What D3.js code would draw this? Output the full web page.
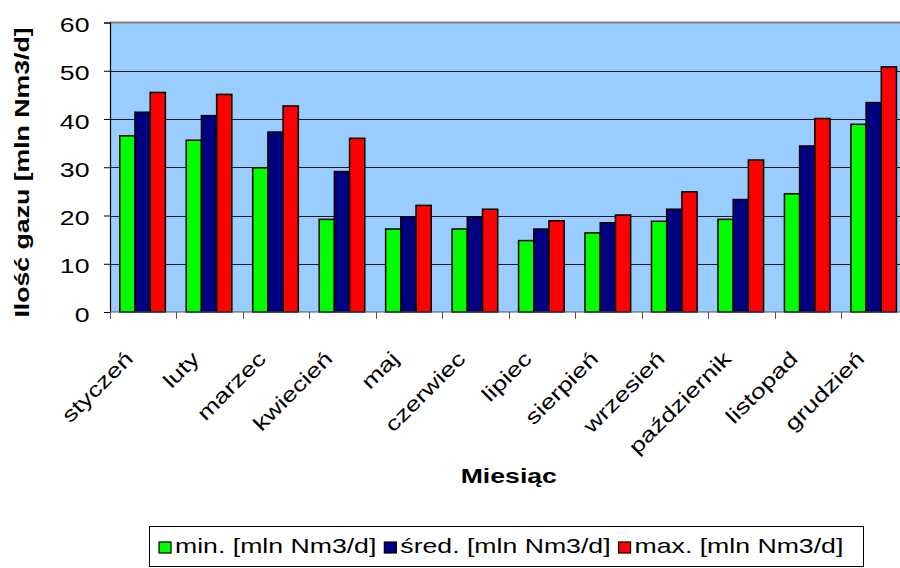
<!DOCTYPE html>
<html>
<head>
<meta charset="utf-8">
<script src="https://cdn.jsdelivr.net/npm/d3@7"></script>
<style>
  html, body { margin: 0; padding: 0; background: #fff; }
  svg { display: block; }
  text { font-family: "Liberation Sans", Arial, sans-serif; fill: #000; }
</style>
</head>
<body>
<svg id="chart" width="900" height="568"></svg>
<script>
// Monthly gas quantities [mln Nm3/d]
const months = ["styczeń", "luty", "marzec", "kwiecień", "maj", "czerwiec",
                "lipiec", "sierpień", "wrzesień", "październik", "listopad", "grudzień"];
const minValues  = [36.5, 35.6, 29.9, 19.2, 17.2, 17.2, 14.8, 16.4, 18.8, 19.2, 24.5, 38.9];
const avgValues  = [41.4, 40.7, 37.3, 29.1, 19.7, 19.7, 17.2, 18.5, 21.3, 23.3, 34.4, 43.4];
const maxValues  = [45.5, 45.1, 42.7, 36.0, 22.1, 21.3, 18.9, 20.1, 24.9, 31.5, 40.1, 50.8];
const seriesNames = ["min. [mln Nm3/d]", "śred. [mln Nm3/d]", "max. [mln Nm3/d]"];
const seriesColors = ["#00FF00", "#000080", "#FF0000"];
const yTicks = [0, 10, 20, 30, 40, 50, 60];

const series = [minValues, avgValues, maxValues];
const svg = d3.select("#chart");

// Text in this chart is drawn wide (stretched along its baseline)
const SX = 1.3;
const FS = 20.5;

const plot = { left: 110, top: 22.5, width: 797.6, height: 289.5 };

// One band per month, boundaries carry the tick marks
const x0 = d3.scaleBand()
  .domain(months)
  .range([plot.left, plot.left + plot.width])
  .padding(0);
const step = x0.step();
// Three bars per month, placed inside the month band
const x = d3.scaleBand().domain(d3.range(series.length))
  .range([step * 0.147, step * 0.833]);

const y = d3.scaleLinear().domain([0, 60]).range([plot.top + plot.height, plot.top]);

// Plot background
svg.append("rect")
  .attr("x", plot.left).attr("y", plot.top)
  .attr("width", plot.width).attr("height", plot.height)
  .attr("fill", "#99CCFF");

// Gridlines
svg.append("g")
  .selectAll("line")
  .data(yTicks.filter(d => d > 0 && d < 60))
  .join("line")
  .attr("x1", plot.left).attr("x2", plot.left + plot.width)
  .attr("y1", d => Math.round(y(d)) + 0.5).attr("y2", d => Math.round(y(d)) + 0.5)
  .attr("stroke", "#1a1a1a").attr("stroke-width", 1);

// Top border of plot area
svg.append("line")
  .attr("x1", plot.left).attr("x2", plot.left + plot.width)
  .attr("y1", plot.top).attr("y2", plot.top)
  .attr("stroke", "#808080").attr("stroke-width", 2);

// Bars
const groups = svg.append("g")
  .selectAll("g")
  .data(months)
  .join("g")
  .attr("transform", d => `translate(${x0(d)},0)`);

groups.selectAll("rect")
  .data((m, i) => series.map((s, k) => ({ k, v: s[i] })))
  .join("rect")
  .attr("x", d => x(d.k))
  .attr("y", d => y(d.v))
  .attr("width", x.bandwidth())
  .attr("height", d => y(0) - y(d.v))
  .attr("fill", d => seriesColors[d.k])
  .attr("stroke", "#000")
  .attr("stroke-width", 1.5);

// Y axis
const yAxis = svg.append("g")
  .attr("transform", `translate(${plot.left},0)`)
  .call(d3.axisLeft(y).tickValues(yTicks).tickSize(6).tickFormat(d3.format("d")));
yAxis.select(".domain").attr("stroke", "#000").attr("stroke-width", 1.2);
yAxis.selectAll(".tick line").attr("stroke", "#000");
yAxis.selectAll(".tick text").remove();
yAxis.selectAll(".tick").append("text")
  .attr("text-anchor", "end")
  .attr("dy", "0.45em")
  .attr("transform", `translate(-20.5,0) scale(${SX},1)`)
  .style("font-size", FS + "px")
  .text(d => d);

// X axis with ticks at month boundaries
const xAxisG = svg.append("g");
xAxisG.append("line")
  .attr("x1", plot.left).attr("x2", plot.left + plot.width)
  .attr("y1", y(0)).attr("y2", y(0))
  .attr("stroke", "#555").attr("stroke-width", 1.2);
xAxisG.selectAll("line.tick")
  .data(d3.range(months.length + 1))
  .join("line")
  .attr("class", "tick")
  .attr("x1", i => Math.round(plot.left + i * step) + 0.5)
  .attr("x2", i => Math.round(plot.left + i * step) + 0.5)
  .attr("y1", y(0)).attr("y2", y(0) + 7)
  .attr("stroke", "#555");

// Rotated month labels
svg.append("g")
  .selectAll("text")
  .data(months)
  .join("text")
  .attr("text-anchor", "end")
  .attr("transform", d => `translate(${x0(d) + step / 2 - 9},${y(0) + 48}) rotate(-45) scale(${SX},1)`)
  .style("font-size", FS + "px")
  .text(d => d);

// Axis titles
svg.append("text")
  .attr("text-anchor", "middle")
  .attr("transform", `translate(28.5,172.5) rotate(-90) scale(${SX},1)`)
  .style("font-size", FS + "px")
  .style("font-weight", "bold")
  .text("Ilość gazu [mln Nm3/d]");

svg.append("text")
  .attr("text-anchor", "middle")
  .attr("transform", `translate(${plot.left + plot.width / 2},483) scale(${SX},1)`)
  .style("font-size", FS + "px")
  .style("font-weight", "bold")
  .text("Miesiąc");

// Legend
const legend = svg.append("g");
legend.append("rect")
  .attr("x", 149.5).attr("y", 526.5)
  .attr("width", 714).attr("height", 40)
  .attr("fill", "#fff").attr("stroke", "#000").attr("stroke-width", 1);

let lx = 159;
seriesNames.forEach((name, k) => {
  legend.append("rect")
    .attr("x", lx).attr("y", 542)
    .attr("width", 12).attr("height", 11)
    .attr("fill", seriesColors[k]).attr("stroke", "#000").attr("stroke-width", 1.2);
  const t = legend.append("text")
    .attr("transform", `translate(${lx + 16},553) scale(${SX},1)`)
    .style("font-size", FS + "px")
    .text(name);
  lx += 16 + t.node().getComputedTextLength() * SX + 8;
});
</script>
</body>
</html>
